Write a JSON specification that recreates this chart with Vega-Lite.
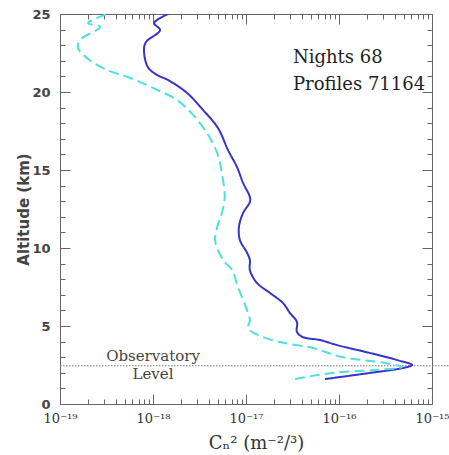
{
  "$schema": "https://vega.github.io/schema/vega-lite/v6.json",
  "width": 372,
  "height": 390,
  "autosize": {"type": "none"},
  "padding": {"left": 60, "top": 14, "right": 17, "bottom": 51},
  "background": "white",
  "config": {
    "view": {"stroke": "#666", "strokeWidth": 1},
    "axis": {"domain": false, "grid": false, "tickColor": "#666", "tickWidth": 1}
  },
  "datasets": {
    "profiles": [
      {"series": "solid", "alt": 1.6, "cn2": 7.06e-17},
      {"series": "solid", "alt": 1.99, "cn2": 2.15e-16},
      {"series": "solid", "alt": 2.31, "cn2": 4.88e-16},
      {"series": "solid", "alt": 2.5, "cn2": 6.1e-16},
      {"series": "solid", "alt": 2.82, "cn2": 4.21e-16},
      {"series": "solid", "alt": 3.27, "cn2": 2.15e-16},
      {"series": "solid", "alt": 3.78, "cn2": 9.5e-17},
      {"series": "solid", "alt": 4.1, "cn2": 6.25e-17},
      {"series": "solid", "alt": 4.29, "cn2": 4.1e-17},
      {"series": "solid", "alt": 4.62, "cn2": 3.53e-17},
      {"series": "solid", "alt": 5.26, "cn2": 3.53e-17},
      {"series": "solid", "alt": 5.83, "cn2": 2.97e-17},
      {"series": "solid", "alt": 6.47, "cn2": 2.5e-17},
      {"series": "solid", "alt": 7.12, "cn2": 1.81e-17},
      {"series": "solid", "alt": 7.76, "cn2": 1.31e-17},
      {"series": "solid", "alt": 8.59, "cn2": 1.1e-17},
      {"series": "solid", "alt": 9.23, "cn2": 1.1e-17},
      {"series": "solid", "alt": 9.68, "cn2": 1.03e-17},
      {"series": "solid", "alt": 10.51, "cn2": 8.6e-18},
      {"series": "solid", "alt": 11.35, "cn2": 8.4e-18},
      {"series": "solid", "alt": 12.24, "cn2": 9.3e-18},
      {"series": "solid", "alt": 12.95, "cn2": 1.1e-17},
      {"series": "solid", "alt": 13.27, "cn2": 1.1e-17},
      {"series": "solid", "alt": 14.17, "cn2": 9.3e-18},
      {"series": "solid", "alt": 15.19, "cn2": 8.0e-18},
      {"series": "solid", "alt": 16.28, "cn2": 6.4e-18},
      {"series": "solid", "alt": 17.69, "cn2": 5.0e-18},
      {"series": "solid", "alt": 18.85, "cn2": 3.45e-18},
      {"series": "solid", "alt": 19.94, "cn2": 2.32e-18},
      {"series": "solid", "alt": 20.77, "cn2": 1.45e-18},
      {"series": "solid", "alt": 21.1, "cn2": 1.1e-18},
      {"series": "solid", "alt": 21.6, "cn2": 8.8e-19},
      {"series": "solid", "alt": 22.7, "cn2": 8.0e-19},
      {"series": "solid", "alt": 23.2, "cn2": 8.4e-19},
      {"series": "solid", "alt": 23.97, "cn2": 1.19e-18},
      {"series": "solid", "alt": 24.42, "cn2": 1.03e-18},
      {"series": "solid", "alt": 25, "cn2": 1.45e-18},
      {"series": "dashed", "alt": 1.6, "cn2": 3.37e-17},
      {"series": "dashed", "alt": 1.99, "cn2": 8.4e-17},
      {"series": "dashed", "alt": 2.18, "cn2": 2.44e-16},
      {"series": "dashed", "alt": 2.37, "cn2": 4.75e-16},
      {"series": "dashed", "alt": 2.63, "cn2": 3.13e-16},
      {"series": "dashed", "alt": 3.01, "cn2": 1.08e-16},
      {"series": "dashed", "alt": 3.59, "cn2": 5.25e-17},
      {"series": "dashed", "alt": 3.97, "cn2": 2.32e-17},
      {"series": "dashed", "alt": 4.42, "cn2": 1.35e-17},
      {"series": "dashed", "alt": 4.87, "cn2": 1.05e-17},
      {"series": "dashed", "alt": 5.38, "cn2": 1.1e-17},
      {"series": "dashed", "alt": 6.35, "cn2": 9.75e-18},
      {"series": "dashed", "alt": 7.5, "cn2": 8.2e-18},
      {"series": "dashed", "alt": 8.59, "cn2": 7.1e-18},
      {"series": "dashed", "alt": 9.1, "cn2": 5.9e-18},
      {"series": "dashed", "alt": 9.87, "cn2": 5.0e-18},
      {"series": "dashed", "alt": 10.51, "cn2": 4.65e-18},
      {"series": "dashed", "alt": 11.35, "cn2": 4.9e-18},
      {"series": "dashed", "alt": 12.24, "cn2": 5.5e-18},
      {"series": "dashed", "alt": 13.27, "cn2": 5.9e-18},
      {"series": "dashed", "alt": 14.81, "cn2": 5.5e-18},
      {"series": "dashed", "alt": 16.09, "cn2": 4.9e-18},
      {"series": "dashed", "alt": 17.37, "cn2": 3.8e-18},
      {"series": "dashed", "alt": 18.53, "cn2": 2.7e-18},
      {"series": "dashed", "alt": 19.49, "cn2": 1.81e-18},
      {"series": "dashed", "alt": 20.26, "cn2": 1.0e-18},
      {"series": "dashed", "alt": 20.9, "cn2": 5.7e-19},
      {"series": "dashed", "alt": 21.41, "cn2": 3.2e-19},
      {"series": "dashed", "alt": 22.18, "cn2": 1.95e-19},
      {"series": "dashed", "alt": 22.82, "cn2": 1.56e-19},
      {"series": "dashed", "alt": 23.33, "cn2": 1.64e-19},
      {"series": "dashed", "alt": 24.17, "cn2": 2.7e-19},
      {"series": "dashed", "alt": 24.42, "cn2": 2.0e-19},
      {"series": "dashed", "alt": 25, "cn2": 3.2e-19}
    ],
    "info": [
      {"label": "Nights 68", "cn2": 3.2e-17, "alt": 22.2},
      {"label": "Profiles 71164", "cn2": 3.2e-17, "alt": 20.45}
    ],
    "obs": [
      {"label": "Observatory", "cn2": 1e-18, "alt": 3.05},
      {"label": "Level", "cn2": 1e-18, "alt": 1.95}
    ],
    "level": [{"alt": 2.45}]
  },
  "layer": [
    {
      "data": {"name": "level"},
      "mark": {"type": "rule", "color": "#777", "strokeWidth": 1, "strokeDash": [1.5, 1.5], "clip": false},
      "encoding": {
        "x": {"datum": 1e-19, "type": "quantitative", "scale": {"type": "log", "domain": [1e-19, 1e-15]}, "axis": null},
        "x2": {"datum": 1.6e-15},
        "y": {"field": "alt", "type": "quantitative", "scale": {"domain": [0, 25]}, "axis": null}
      }
    },
    {
      "data": {"name": "profiles"},
      "mark": {"type": "line", "strokeWidth": 2, "clip": true, "interpolate": "catmull-rom"},
      "encoding": {
        "x": {
          "field": "cn2", "type": "quantitative",
          "scale": {"type": "log", "domain": [1e-19, 1e-15]},
          "axis": {
            "orient": "bottom",
            "values": [1e-19, 1e-18, 1e-17, 1e-16, 1e-15],
            "labelExpr": "'10⁻¹' + ['⁵','⁶','⁷','⁸','⁹'][-round(log(datum.value)/LN10) - 15]",
            "tickSize": -10,
            "labelPadding": 18,
            "labelFlush": false,
            "labelOverlap": false,
            "labelFont": "DejaVu Serif",
            "labelFontSize": 13,
            "labelColor": "#333",
            "title": "Cₙ² (m⁻²/³)",
            "titleFont": "DejaVu Serif",
            "titleFontSize": 18,
            "titleFontWeight": "normal",
            "titleColor": "#333",
            "titleBaseline": "middle",
            "titleX": 196,
            "titleY": 39
          }
        },
        "y": {
          "field": "alt", "type": "quantitative",
          "scale": {"domain": [0, 25]},
          "axis": {
            "orient": "left",
            "values": [0, 5, 10, 15, 20, 25],
            "format": "d",
            "tickSize": -10,
            "labelPadding": 20,
            "labelFont": "DejaVu Sans",
            "labelFontSize": 13,
            "labelFontWeight": "bold",
            "labelColor": "#444",
            "title": "Altitude (km)",
            "titleFont": "DejaVu Sans",
            "titleFontSize": 15,
            "titleFontWeight": "bold",
            "titleColor": "#444",
            "titleBaseline": "middle",
            "titleX": -37,
            "titleY": 195
          }
        },
        "color": {"field": "series", "type": "nominal", "scale": {"domain": ["solid", "dashed"], "range": ["#3535c8", "#4ee0dd"]}, "legend": null},
        "strokeDash": {"field": "series", "type": "nominal", "scale": {"domain": ["solid", "dashed"], "range": [[1, 0], [10, 5]]}, "legend": null},
        "order": {"field": "alt", "type": "quantitative"}
      }
    },
    {
      "data": {"name": "profiles"},
      "mark": {"type": "point", "opacity": 0},
      "encoding": {
        "x": {"field": "cn2", "type": "quantitative", "scale": {"type": "log", "domain": [1e-19, 1e-15]},
          "axis": {"orient": "bottom", "values": [2e-19,3e-19,4e-19,5e-19,6e-19,7e-19,8e-19,9e-19,2e-18,3e-18,4e-18,5e-18,6e-18,7e-18,8e-18,9e-18,2e-17,3e-17,4e-17,5e-17,6e-17,7e-17,8e-17,9e-17,2e-16,3e-16,4e-16,5e-16,6e-16,7e-16,8e-16,9e-16], "tickSize": -5, "labels": false, "title": null}},
        "y": {"field": "alt", "type": "quantitative", "scale": {"domain": [0, 25]},
          "axis": {"orient": "left", "values": [1,2,3,4,6,7,8,9,11,12,13,14,16,17,18,19,21,22,23,24], "tickSize": -5, "labels": false, "title": null}}
      }
    },
    {
      "data": {"name": "profiles"},
      "mark": {"type": "point", "opacity": 0},
      "encoding": {
        "x": {"field": "cn2", "type": "quantitative", "scale": {"type": "log", "domain": [1e-19, 1e-15]},
          "axis": {"orient": "top", "values": [1e-19, 1e-18, 1e-17, 1e-16, 1e-15], "tickSize": -10, "labels": false, "title": null}},
        "y": {"field": "alt", "type": "quantitative", "scale": {"domain": [0, 25]},
          "axis": {"orient": "right", "values": [0, 5, 10, 15, 20, 25], "tickSize": -10, "labels": false, "title": null}}
      }
    },
    {
      "data": {"name": "profiles"},
      "mark": {"type": "point", "opacity": 0},
      "encoding": {
        "x": {"field": "cn2", "type": "quantitative", "scale": {"type": "log", "domain": [1e-19, 1e-15]},
          "axis": {"orient": "top", "values": [2e-19,3e-19,4e-19,5e-19,6e-19,7e-19,8e-19,9e-19,2e-18,3e-18,4e-18,5e-18,6e-18,7e-18,8e-18,9e-18,2e-17,3e-17,4e-17,5e-17,6e-17,7e-17,8e-17,9e-17,2e-16,3e-16,4e-16,5e-16,6e-16,7e-16,8e-16,9e-16], "tickSize": -5, "labels": false, "title": null}},
        "y": {"field": "alt", "type": "quantitative", "scale": {"domain": [0, 25]},
          "axis": {"orient": "right", "values": [1,2,3,4,6,7,8,9,11,12,13,14,16,17,18,19,21,22,23,24], "tickSize": -5, "labels": false, "title": null}}
      }
    },
    {
      "data": {"name": "info"},
      "mark": {"type": "text", "align": "left", "baseline": "middle", "font": "DejaVu Serif", "fontSize": 18, "color": "#222"},
      "encoding": {
        "x": {"field": "cn2", "type": "quantitative", "scale": {"type": "log", "domain": [1e-19, 1e-15]}, "axis": null},
        "y": {"field": "alt", "type": "quantitative", "scale": {"domain": [0, 25]}, "axis": null},
        "text": {"field": "label"}
      }
    },
    {
      "data": {"name": "obs"},
      "mark": {"type": "text", "align": "center", "baseline": "middle", "font": "DejaVu Serif", "fontSize": 15, "color": "#444"},
      "encoding": {
        "x": {"field": "cn2", "type": "quantitative", "scale": {"type": "log", "domain": [1e-19, 1e-15]}, "axis": null},
        "y": {"field": "alt", "type": "quantitative", "scale": {"domain": [0, 25]}, "axis": null},
        "text": {"field": "label"}
      }
    }
  ],
  "resolve": {"axis": {"x": "independent", "y": "independent"}}
}
